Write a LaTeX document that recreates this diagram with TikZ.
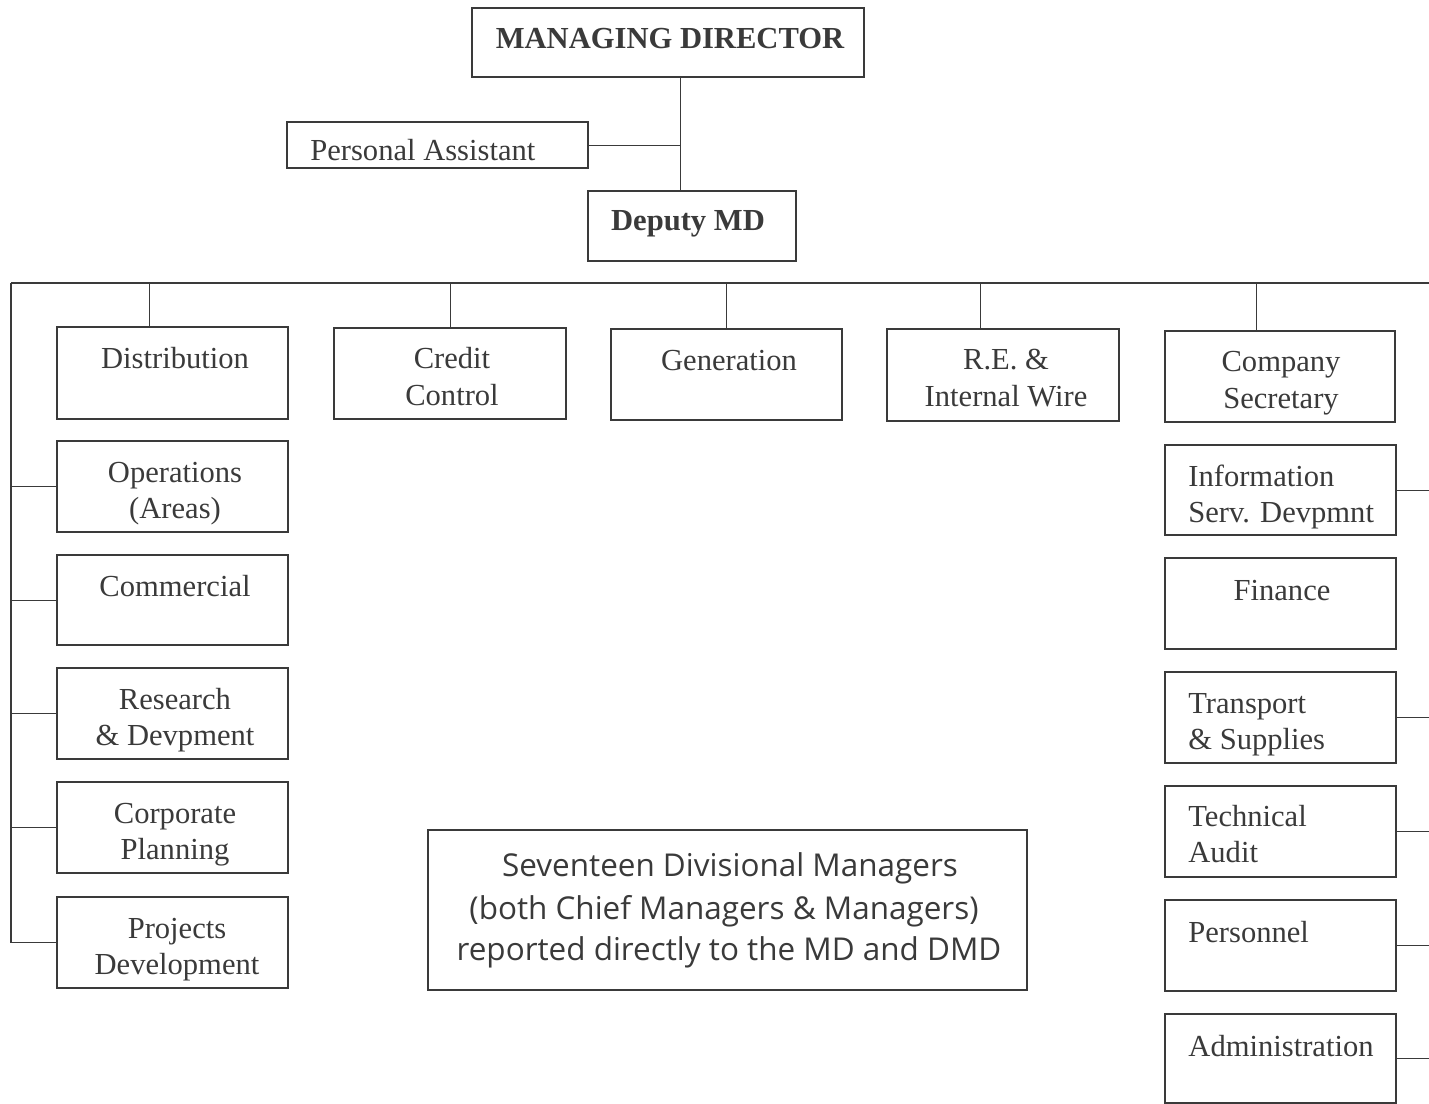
\documentclass[tikz,border=0pt]{standalone}
\usepackage{fontspec}
\setmainfont{Liberation Serif}
\newfontfamily\notefont{Open Sans}
\usetikzlibrary{fit}
\definecolor{ink}{HTML}{3A3A3A}
% centred and left-aligned two-line stacks, baseline on the first line
\newcommand\stackc[2]{\vtop{\halign{\hfil##\hfil\cr#1\cr#2\cr}}}
\newcommand\stackl[2]{\vtop{\halign{##\hfil\cr#1\cr#2\cr}}}
\begin{document}
\begin{tikzpicture}[x=0.02cm,y=-0.02cm,
  box/.style={draw=ink, line width=0.65pt, inner sep=0pt},
  lbl/.style={text=ink, inner sep=0pt, anchor=base,
    font=\fontsize{17.4}{20.5}\selectfont},
  lbll/.style={lbl, anchor=base west},
  head/.style={lbl, font=\fontsize{17.4}{20.5}\selectfont\bfseries},
  link/.style={draw=ink, line width=0.55pt},
  bus/.style={draw=ink, line width=1.4pt},
  note/.style={text=ink, inner sep=0pt, anchor=base,
    font=\notefont\fontsize{17.9}{22}\selectfont}]
\useasboundingbox (0,0) rectangle (1429,1104);

% top management
\node[box, fit={(472,8) (864,77)}] (md) {};
\node[head] (md-t) at (670,49) {MANAGING DIRECTOR};
\node[box, fit={(287,122) (588,168)}] (pa) {};
\node[lbll] (pa-t) at (310,161) {Personal Assistant};
\node[box, fit={(588,191) (796,261)}] (dep) {};
\node[head] (dep-t) at (688,231) {Deputy MD};

\coordinate (mdj) at (680,145);
\draw[link] (md.south -| mdj) -- (dep.north -| mdj);
\draw[link] (pa.east) -- (mdj);

% divisional bus
\coordinate (lb) at (11,283);
\coordinate (rb) at (1429,283);
\draw[bus] (lb) -- (rb);

% top row of divisions
\node[box, fit={(57,327) (288,419)}] (dist) {};
\node[lbl] (dist-t) at (175,369) {Distribution};
\node[box, fit={(334,328) (566,419)}] (cred) {};
\node[lbl] (cred-t) at (452,369) {\stackc{Credit}{Control}};
\node[box, fit={(611,329) (842,420)}] (gen) {};
\node[lbl] (gen-t) at (729,371) {Generation};
\node[box, fit={(887,329) (1119,421)}] (rei) {};
\node[lbl] (rei-t) at (1006,370) {\stackc{R.E. \&}{Internal Wire}};
\node[box, fit={(1165,331) (1395,422)}] (cs) {};
\node[lbl] (cs-t) at (1281,372) {\stackc{Company}{Secretary}};

\foreach \n/\x in {dist/149, cred/450, gen/726, rei/980, cs/1256}{
  \coordinate (drop-\n) at (\x,283);
  \draw[link] (drop-\n) -- (drop-\n |- \n.north);
}

% left column
\node[box, fit={(57,441) (288,532)}] (ops) {};
\node[lbl] (ops-t) at (175,482) {\stackc{Operations}{(Areas)}};
\node[box, fit={(57,555) (288,645)}] (com) {};
\node[lbl] (com-t) at (175,596) {Commercial};
\node[box, fit={(57,668) (288,759)}] (rnd) {};
\node[lbl] (rnd-t) at (175,709) {\stackc{Research}{\& Devpment}};
\node[box, fit={(57,782) (288,873)}] (cp) {};
\node[lbl] (cp-t) at (175,823) {\stackc{Corporate}{Planning}};
\node[box, fit={(57,897) (288,988)}] (pd) {};
\node[lbl] (pd-t) at (177,938) {\stackc{Projects}{Development}};

\draw[bus] (lb) -- (lb |- pd.west);
\draw[link] (lb |- pd.west) -- (pd.west);
\foreach \n in {ops, com, rnd, cp}
  \draw[link] (\n.west) -- (\n.west -| lb);

% right column
\coordinate (re) at (1429,500);
\node[box, fit={(1165,445) (1396,535)}] (isd) {};
\node[lbll] (isd-t) at (1188,486) {\stackl{Information}{Serv. Devpmnt}};
\node[box, fit={(1165,558) (1396,649)}] (fin) {};
\node[lbl] (fin-t) at (1282,600) {Finance};
\node[box, fit={(1165,672) (1396,763)}] (trs) {};
\node[lbll] (trs-t) at (1188,713) {\stackl{Transport}{\& Supplies}};
\node[box, fit={(1165,786) (1396,877)}] (ta) {};
\node[lbll] (ta-t) at (1188,826) {\stackl{Technical}{Audit}};
\node[box, fit={(1165,900) (1396,991)}] (per) {};
\node[lbll] (per-t) at (1188,942) {Personnel};
\node[box, fit={(1165,1014) (1396,1103)}] (adm) {};
\node[lbl] (adm-t) at (1281,1056) {Administration};

\foreach \n in {isd, trs, ta, per, adm}
  \draw[link] (\n.east) -- (\n.east -| re);

% note box
\node[box, fit={(428,830) (1027,990)}] (nb) {};
\node[note] (nb-1) at (730,876) {Seventeen Divisional Managers};
\node[note] (nb-2) at (724,919) {(both Chief Managers \& Managers)};
\node[note] (nb-3) at (729,960) {reported directly to the MD and DMD};
\end{tikzpicture}
\end{document}
